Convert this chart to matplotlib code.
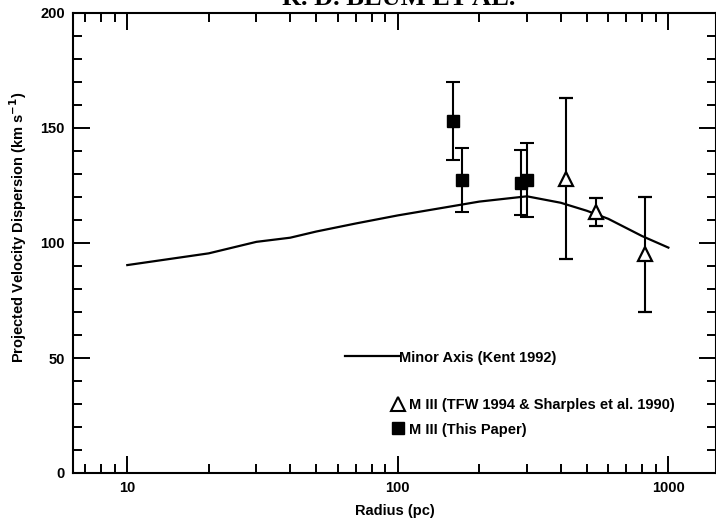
import matplotlib
matplotlib.use("Agg")
import matplotlib.pyplot as plt
from matplotlib.lines import Line2D
from matplotlib.ticker import LogLocator, MultipleLocator, FixedLocator, NullFormatter, FixedFormatter

plt.rcParams['font.family'] = ['Liberation Sans', 'DejaVu Sans']

# Minor-axis model (Kent 1992)
kent_r = [10, 20, 30, 40, 50, 70, 100, 150, 200, 300, 400, 500, 600, 800, 1000]
kent_sig = [90.4, 95.5, 100.5, 102.3, 105, 108.5, 112, 115.5, 118, 120.3, 117.5, 114, 110.5, 103, 98]

# M III (TFW 1994 & Sharples et al. 1990)
tfw_r = [417, 542, 817]
tfw_sig = [128, 113.4, 95]
tfw_err = [35, 6, 25]

# M III (This Paper)
blum_r = [160, 172, 286, 299]
blum_sig = [153, 127.5, 126.3, 127.5]
blum_err = [17, 14, 14, 16]

x_ticks = [10, 100, 1000]
x_labels = ['10', '100', '1000']
y_ticks = [0, 50, 100, 150, 200]

fig = plt.figure(figsize=(7.16, 5.24), dpi=100)
ax = fig.add_axes([73/716, 51/524, 643/716, 460/524])

ax.plot(kent_r, kent_sig, color='black', lw=1.6, label='Minor Axis (Kent 1992)')
ax.errorbar(tfw_r, tfw_sig, yerr=tfw_err, fmt='^', mfc='white', mec='black', mew=1.6,
            ms=10, ecolor='black', elinewidth=1.5, capsize=5, capthick=1.5)
ax.errorbar(blum_r, blum_sig, yerr=blum_err, fmt='s', mfc='black', mec='black',
            ms=8.5, ecolor='black', elinewidth=1.5, capsize=5, capthick=1.5)

ax.set_xscale('log')
ax.set_xlim(6.3, 1500)
ax.set_ylim(0, 200)

ax.xaxis.set_major_locator(FixedLocator(x_ticks))
ax.xaxis.set_major_formatter(FixedFormatter(x_labels))
ax.xaxis.set_minor_locator(LogLocator(base=10, subs=range(2, 10)))
ax.xaxis.set_minor_formatter(NullFormatter())
ax.yaxis.set_major_locator(FixedLocator(y_ticks))
ax.yaxis.set_minor_locator(MultipleLocator(10))

for s in ax.spines.values():
    s.set_linewidth(1.5)
ax.tick_params(which='both', direction='in', top=True, right=True, width=1.4)
ax.tick_params(which='major', length=12)
ax.tick_params(which='minor', length=6.5)
ax.tick_params(axis='both', which='major', labelsize=10.5, pad=6)
for lab in ax.get_xticklabels() + ax.get_yticklabels():
    lab.set_fontweight('bold')

ax.set_xlabel('Radius (pc)', fontsize=10.5, fontweight='bold', labelpad=6)
ax.set_ylabel('Projected Velocity Dispersion (km s$^{\\mathbf{-1}}$)', fontsize=10.5, fontweight='bold')
ax.yaxis.set_label_coords(-0.069, 0.533)

# legends
h_line = Line2D([], [], color='black', lw=1.6)
leg1 = ax.legend([h_line], ['Minor Axis (Kent 1992)'], loc='center left',
                 bbox_to_anchor=(0.4235, 0.251), frameon=False, handlelength=3.7,
                 handletextpad=0.0, borderaxespad=0, borderpad=0,
                 prop={'weight': 'bold', 'size': 10.5})
ax.add_artist(leg1)
h_tri = Line2D([], [], ls='none', marker='^', mfc='white', mec='black', mew=1.5, ms=10)
h_sq = Line2D([], [], ls='none', marker='s', mfc='black', mec='black', ms=8.5)
leg2 = ax.legend([h_tri, h_sq], ['M III (TFW 1994 & Sharples et al. 1990)', 'M III (This Paper)'],
                 loc='upper left', bbox_to_anchor=(0.497, 0.163), frameon=False,
                 handlelength=0.8, handletextpad=0.3, borderaxespad=0, borderpad=0,
                 labelspacing=0.72, prop={'weight': 'bold', 'size': 10.5})

fig.text(0.557, 1.0 - 5/524, 'R. D. BLUM ET AL.', ha='center', va='baseline',
         fontsize=19, fontweight='bold', family='Liberation Serif')

fig.savefig('out.png', dpi=100)
